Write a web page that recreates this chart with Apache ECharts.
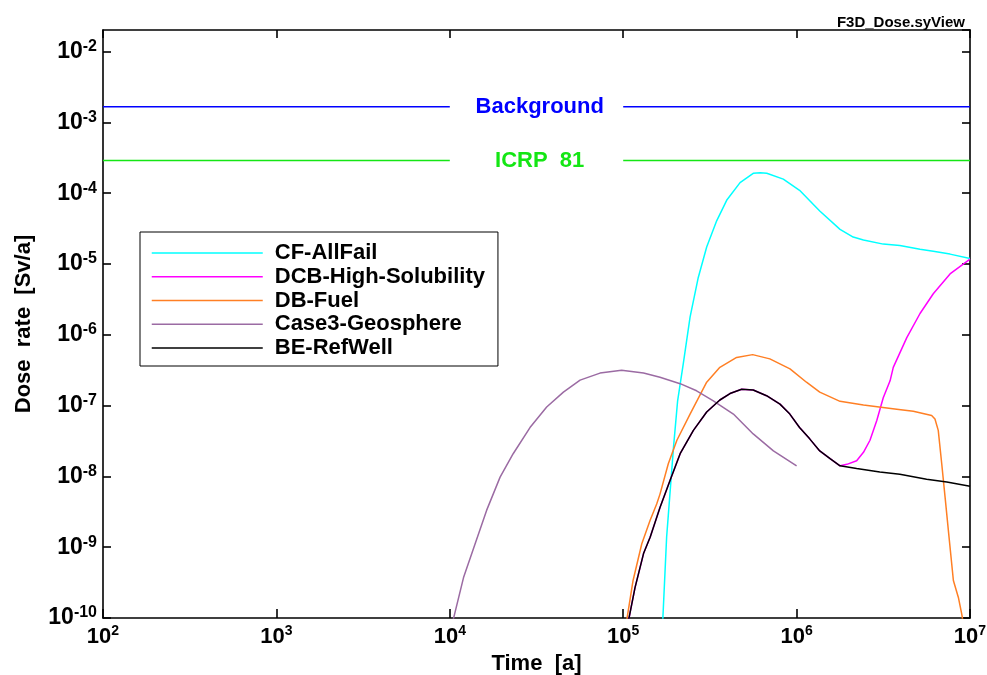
<!DOCTYPE html>
<html><head><meta charset="utf-8">
<script src="https://cdn.jsdelivr.net/npm/echarts@6/dist/echarts.min.js"></script>
<style>html,body{margin:0;padding:0;background:#fff}#c{width:987px;height:675px}</style>
</head><body><div id="c"></div>
<script>
// ---- data (time [a], dose rate [Sv/a]) ----
const seriesNames = ['CF-AllFail', 'DCB-High-Solubility', 'DB-Fuel', 'Case3-Geosphere', 'BE-RefWell'];

const cfAllFail = [
  [1.69e5, 8.9e-11], [1.78e5, 1.38e-9], [1.82e5, 2.82e-9], [1.95e5, 2.57e-8], [2.06e5, 1.17e-7],
  [2.22e5, 3.89e-7], [2.43e5, 1.78e-6], [2.71e5, 6.46e-6], [3.03e5, 1.74e-5], [3.46e5, 4.07e-5],
  [3.95e5, 7.94e-5], [4.72e5, 1.41e-4], [5.62e5, 1.91e-4], [6.17e5, 1.95e-4], [6.73e5, 1.91e-4],
  [8.38e5, 1.58e-4], [1.04e6, 1.10e-4], [1.36e6, 5.62e-5], [1.78e6, 3.09e-5], [2.12e6, 2.40e-5],
  [2.43e6, 2.19e-5], [3.16e6, 1.91e-5], [3.94e6, 1.82e-5], [5.15e6, 1.62e-5], [6.14e6, 1.51e-5],
  [7.67e6, 1.38e-5], [1e7, 1.20e-5]
];

const dcbHighSolubility = [
  [1.07e5, 8.9e-11], [1.17e5, 2.69e-10], [1.31e5, 8.13e-10], [1.43e5, 1.38e-9], [1.63e5, 3.63e-9],
  [1.86e5, 8.71e-9], [2.13e5, 2.09e-8], [2.54e5, 4.47e-8], [3.03e5, 8.13e-8], [3.61e5, 1.20e-7],
  [4.13e5, 1.48e-7], [4.82e5, 1.70e-7], [5.62e5, 1.66e-7], [6.71e5, 1.38e-7], [8.02e5, 1.05e-7],
  [9.14e5, 7.59e-8], [1.04e6, 4.90e-8], [1.19e6, 3.39e-8], [1.36e6, 2.29e-8], [1.56e6, 1.78e-8],
  [1.78e6, 1.41e-8], [1.95e6, 1.48e-8], [2.22e6, 1.66e-8], [2.43e6, 2.19e-8], [2.65e6, 3.24e-8],
  [2.90e6, 6.17e-8], [3.16e6, 1.29e-7], [3.46e6, 2.24e-7], [3.61e6, 3.47e-7], [4.32e6, 9.12e-7],
  [5.15e6, 2.00e-6], [6.14e6, 3.80e-6], [7.67e6, 7.24e-6], [1e7, 1.17e-5]
];

const dbFuel = [
  [1.045e5, 8.9e-11], [1.14e5, 3.39e-10], [1.28e5, 1.12e-9], [1.43e5, 2.40e-9], [1.56e5, 4.07e-9],
  [1.63e5, 5.62e-9], [1.82e5, 1.51e-8], [2.04e5, 3.24e-8], [2.43e5, 7.59e-8], [3.03e5, 2.14e-7],
  [3.61e5, 3.47e-7], [4.51e5, 4.79e-7], [5.58e5, 5.25e-7], [7.01e5, 4.57e-7], [9.16e5, 3.31e-7],
  [1.14e6, 2.14e-7], [1.36e6, 1.55e-7], [1.78e6, 1.15e-7], [2.43e6, 1.02e-7], [3.78e6, 8.91e-8],
  [4.71e6, 8.32e-8], [6.01e6, 7.24e-8], [6.28e6, 6.46e-8], [6.56e6, 4.47e-8], [6.87e6, 1.51e-8],
  [7.18e6, 5.13e-9], [7.50e6, 1.74e-9], [8.02e6, 3.39e-10], [8.57e6, 1.95e-10], [8.95e6, 1.15e-10],
  [9.12e6, 8.9e-11]
];

const case3Geosphere = [
  [1.04e4, 8.9e-11], [1.20e4, 3.72e-10], [1.40e4, 1.12e-9], [1.63e4, 3.31e-9], [1.95e4, 9.77e-9],
  [2.32e4, 2.09e-8], [2.90e4, 4.90e-8], [3.62e4, 9.55e-8], [4.52e4, 1.55e-7], [5.64e4, 2.29e-7],
  [7.35e4, 2.88e-7], [9.79e4, 3.16e-7], [1.31e5, 2.88e-7], [1.63e5, 2.51e-7], [2.13e5, 2.04e-7],
  [2.65e5, 1.62e-7], [3.31e5, 1.17e-7], [4.32e5, 7.59e-8], [5.62e5, 3.98e-8], [7.35e5, 2.29e-8],
  [1.0e6, 1.41e-8]
];

const beRefWell = [
  [1.07e5, 8.9e-11], [1.17e5, 2.69e-10], [1.31e5, 8.13e-10], [1.43e5, 1.38e-9], [1.63e5, 3.63e-9],
  [1.86e5, 8.71e-9], [2.13e5, 2.09e-8], [2.54e5, 4.47e-8], [3.03e5, 8.13e-8], [3.61e5, 1.20e-7],
  [4.13e5, 1.48e-7], [4.82e5, 1.70e-7], [5.62e5, 1.66e-7], [6.71e5, 1.38e-7], [8.02e5, 1.05e-7],
  [9.14e5, 7.59e-8], [1.04e6, 4.90e-8], [1.19e6, 3.39e-8], [1.36e6, 2.29e-8], [1.56e6, 1.78e-8],
  [1.78e6, 1.41e-8], [2.22e6, 1.29e-8], [3.02e6, 1.15e-8], [3.94e6, 1.07e-8], [5.62e6, 9.12e-9],
  [7.35e6, 8.32e-9], [1e7, 7.24e-9]
];

// reference levels: line segments with a gap where the label sits
const backgroundLevel = 1.67e-3;
const icrpLevel = 2.9e-4;
const refLineTimes = [1e2, 1e4, null, 1e5, 1e7];
const refLabelTime = 3.3e4;

const xMin = 1e2, xMax = 1e7;
const yMin = 1e-10, yMax = 2.02e-2;

// ---- styling ----
const FONT = '"Liberation Sans", Arial, Helvetica, sans-serif';
const colors = ['#00FFFF', '#FF00FF', '#FF7F24', '#9B6BA3', '#000000'];
const seriesData = [cfAllFail, dcbHighSolubility, dbFuel, case3Geosphere, beRefWell];

function refData(level) {
  return refLineTimes.map(t => t === null ? [refLabelTime, '-'] : [t, level]);
}
function powLabel(v) {
  const e = Math.round(Math.log10(v));
  return '{b|10}{s|' + e + '}';
}
const richX = {
  b: { fontSize: 22, fontWeight: 'bold', fontFamily: FONT, color: '#000', lineHeight: 26, verticalAlign: 'middle' },
  s: { fontSize: 14, fontWeight: 'bold', fontFamily: FONT, color: '#000', lineHeight: 14, verticalAlign: 'top' }
};
const richY = {
  b: { fontSize: 23, fontWeight: 'bold', fontFamily: FONT, color: '#000', lineHeight: 26, verticalAlign: 'middle' },
  s: { fontSize: 16, fontWeight: 'bold', fontFamily: FONT, color: '#000', lineHeight: 15, verticalAlign: 'top' }
};
const axisLineStyle = { color: '#000', width: 1.6 };

const chart = echarts.init(document.getElementById('c'), null, { renderer: 'canvas' });

const mainSeries = seriesNames.map((name, i) => ({
  name: name,
  type: 'line',
  data: seriesData[i],
  symbol: 'none',
  showSymbol: false,
  smooth: false,
  clip: true,
  lineStyle: { color: colors[i], width: 1.5 },
  itemStyle: { color: colors[i] },
  z: 3 + i
}));

function refSeries(name, level, color) {
  return {
    name: name,
    type: 'line',
    data: refData(level),
    symbol: 'none',
    connectNulls: false,
    lineStyle: { color: color, width: 1.5 },
    itemStyle: { color: color },
    markPoint: {
      symbol: 'rect',
      symbolSize: 1,
      itemStyle: { color: 'rgba(0,0,0,0)' },
      label: {
        show: true, position: 'inside', formatter: name,
        color: color, fontSize: 22, fontWeight: 'bold', fontFamily: FONT
      },
      data: [{ coord: [refLabelTime, level] }]
    },
    z: 2
  };
}

chart.setOption({
  animation: false,
  backgroundColor: '#fff',
  title: {
    text: 'F3D_Dose.syView',
    right: 17, top: 10,
    textStyle: { fontSize: 15, fontWeight: 'bold', fontFamily: FONT, color: '#000' }
  },
  grid: { left: 103, right: 17, top: 30, bottom: 57, containLabel: false, outerBoundsMode: 'none' },
  legend: {
    data: seriesNames,
    orient: 'vertical',
    left: 140, top: 232,
    padding: [10, 13, 7, 11],
    itemWidth: 111, itemHeight: 20, itemGap: 1.75,
    backgroundColor: '#fff',
    borderColor: '#000', borderWidth: 1,
    borderRadius: 0,
    itemStyle: { opacity: 0, color: 'rgba(0,0,0,0)', borderWidth: 0 },
    lineStyle: { width: 1.5 },
    textStyle: { fontSize: 22, fontWeight: 'bold', fontFamily: FONT, color: '#000', lineHeight: 20, padding: [0, 0, 0, 7] },
    selectedMode: false
  },
  xAxis: [{
    type: 'log', logBase: 10, min: xMin, max: xMax,
    position: 'bottom',
    name: 'Time  [a]', nameLocation: 'middle', nameGap: 34,
    nameTextStyle: { fontSize: 22, fontWeight: 'bold', fontFamily: FONT, color: '#000' },
    axisLine: { show: true, lineStyle: axisLineStyle },
    axisTick: { show: true, inside: true, length: 9, lineStyle: { color: '#000', width: 1.6 } },
    minorTick: { show: false },
    axisLabel: { formatter: powLabel, rich: richX, margin: 6 },
    splitLine: { show: false }
  }, {
    type: 'log', logBase: 10, min: xMin, max: xMax,
    position: 'top',
    axisLine: { show: true, onZero: false, lineStyle: axisLineStyle },
    axisTick: { show: true, inside: true, length: 8, lineStyle: { color: '#000', width: 1.6 } },
    axisLabel: { show: false },
    splitLine: { show: false }
  }],
  yAxis: [{
    type: 'log', logBase: 10, min: yMin, max: yMax,
    position: 'left',
    name: 'Dose  rate  [Sv/a]', nameLocation: 'middle', nameGap: 68,
    nameTextStyle: { fontSize: 22, fontWeight: 'bold', fontFamily: FONT, color: '#000' },
    axisLine: { show: true, onZero: false, lineStyle: axisLineStyle },
    axisTick: { show: true, inside: true, length: 8, lineStyle: { color: '#000', width: 1.6 } },
    axisLabel: { formatter: powLabel, rich: richY, margin: 6, showMaxLabel: false },
    splitLine: { show: false }
  }, {
    type: 'log', logBase: 10, min: yMin, max: yMax,
    position: 'right',
    axisLine: { show: true, onZero: false, lineStyle: axisLineStyle },
    axisTick: { show: true, inside: true, length: 8, lineStyle: { color: '#000', width: 1.6 } },
    axisLabel: { show: false },
    splitLine: { show: false }
  }],
  series: [
    refSeries('Background', backgroundLevel, '#0000FF'),
    refSeries('ICRP  81', icrpLevel, '#14E614')
  ].concat(mainSeries)
});
</script>
</body></html>
